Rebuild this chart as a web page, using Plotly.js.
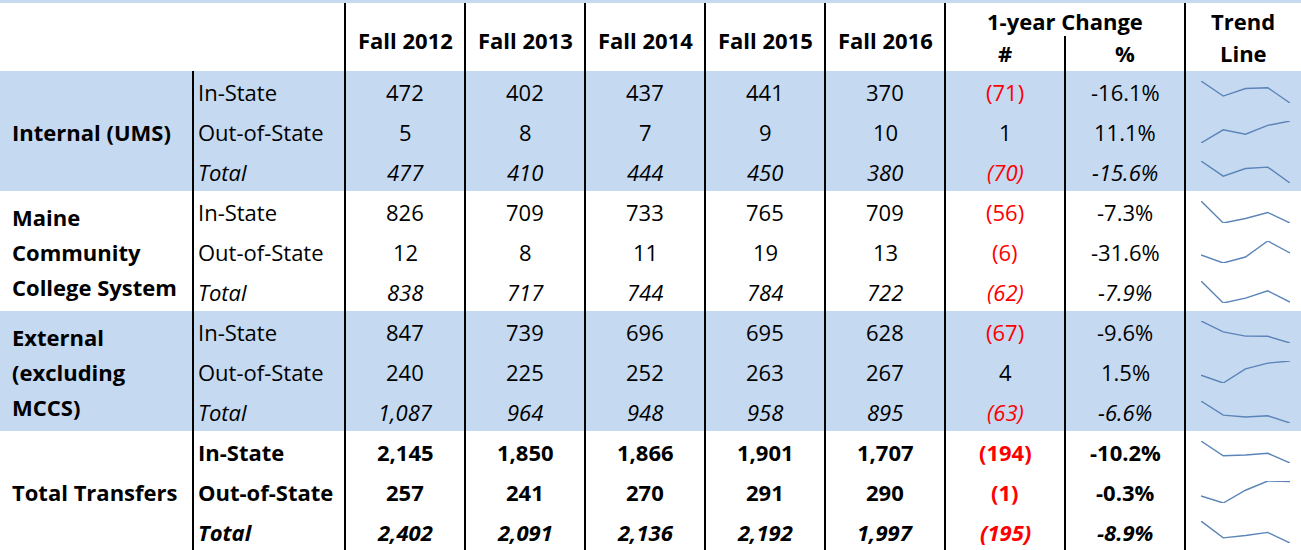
<!DOCTYPE html>
<html>
<head>
<meta charset="utf-8">
<script src="https://cdn.plot.ly/plotly-3.0.1.min.js"></script>
<style>html,body{margin:0;padding:0;background:#fff;}#chart{width:1301px;height:550px;}</style>
</head>
<body>
<div id="chart"></div>
<script>
// ---------- DATA ----------
var years = ['Fall 2012', 'Fall 2013', 'Fall 2014', 'Fall 2015', 'Fall 2016'];
var groupLabels = [['Internal (UMS)'], ['Maine', 'Community', 'College System'], ['External', '(excluding', 'MCCS)'], ['Total Transfers']];
var subLabels = ['In-State', 'Out-of-State', 'Total'];

var umsIn = [472, 402, 437, 441, 370];
var umsOut = [5, 8, 7, 9, 10];
var umsTotal = [477, 410, 444, 450, 380];
var mccsIn = [826, 709, 733, 765, 709];
var mccsOut = [12, 8, 11, 19, 13];
var mccsTotal = [838, 717, 744, 784, 722];
var extIn = [847, 739, 696, 695, 628];
var extOut = [240, 225, 252, 263, 267];
var extTotal = [1087, 964, 948, 958, 895];
var allIn = [2145, 1850, 1866, 1901, 1707];
var allOut = [257, 241, 270, 291, 290];
var allTotal = [2402, 2091, 2136, 2192, 1997];

var changeNum = [-71, 1, -70, -56, -6, -62, -67, 4, -63, -194, -1, -195];
var changePct = ['-16.1%', '11.1%', '-15.6%', '-7.3%', '-31.6%', '-7.9%', '-9.6%', '1.5%', '-6.6%', '-10.2%', '-0.3%', '-8.9%'];

var rowsData = [umsIn, umsOut, umsTotal, mccsIn, mccsOut, mccsTotal, extIn, extOut, extTotal, allIn, allOut, allTotal];

// ---------- LAYOUT HELPERS ----------
var W = 1301, H = 550;
var FONT = '"Open Sans", Lato, "Liberation Sans", sans-serif';
var FS = 22;
var rowTop = 71, rowH = 40;
var colCenters = [405, 525, 645, 765, 885];
var numCenter = 1005, pctCenter = 1125, trendCenter = 1243;
var blue = '#C5D9F1';

var shapes = [];
var annotations = [];
var traces = [];

function rect(x0, y0, x1, y1, color) {
  shapes.push({type: 'rect', xref: 'x', yref: 'y', x0: x0, x1: x1, y0: y0, y1: y1,
    fillcolor: color, line: {width: 0}, layer: 'below'});
}
function vline(x, y0, y1) {
  shapes.push({type: 'line', xref: 'x', yref: 'y', x0: x, x1: x, y0: y0, y1: y1,
    line: {color: '#000', width: 2}});
}
function txt(x, y, s, anchor, color) {
  annotations.push({xref: 'x', yref: 'y', x: x, y: y, text: s, showarrow: false,
    xanchor: anchor || 'center', yanchor: 'middle',
    font: {family: FONT, size: FS, color: color || '#000'}});
}
function fmt(v) { return v.toLocaleString('en-US'); }

// backgrounds
rect(0, 0, W, 3, blue);
rect(0, rowTop, W, rowTop + 3 * rowH, blue);
rect(0, rowTop + 6 * rowH, W, rowTop + 9 * rowH, blue);

// vertical lines
vline(193, rowTop, H);
[345, 465, 585, 705, 825, 945, 1185].forEach(function (x) { vline(x, 3, H); });
vline(1065, 36, H);

// header
years.forEach(function (y, i) { txt(colCenters[i], 40, '<b>' + y + '</b>'); });
txt(1065, 21, '<b>1-year Change</b>');
txt(numCenter, 53, '<b>#</b>');
txt(pctCenter, 53, '<b>%</b>');
txt(trendCenter, 21, '<b>Trend</b>');
txt(trendCenter, 53, '<b>Line</b>');

// group labels
groupLabels.forEach(function (lines, g) {
  var c = rowTop + g * 3 * rowH + 1.5 * rowH + 1;
  var n = lines.length;
  lines.forEach(function (l, k) {
    txt(10, c + (k - (n - 1) / 2) * 35, '<b>' + l + '</b>', 'left');
  });
});

// rows
rowsData.forEach(function (vals, r) {
  var g = Math.floor(r / 3), s = r % 3;
  var cy = rowTop + r * rowH + rowH / 2 + 1;
  var isBold = g === 3, isItal = s === 2;
  function st(t) {
    if (isBold) t = '<b>' + t + '</b>';
    if (isItal) t = '<i>' + t + '</i>';
    return t;
  }
  txt(196, cy, st(subLabels[s]), 'left');
  vals.forEach(function (v, i) { txt(colCenters[i], cy, st(fmt(v))); });
  var cn = changeNum[r];
  txt(numCenter, cy, st(cn < 0 ? '(' + fmt(-cn) + ')' : fmt(cn)), 'center', cn < 0 ? '#FF0000' : '#000');
  txt(pctCenter, cy, st(changePct[r]));
});

// base hidden axes (pixel space)
var layout = {
  width: W, height: H,
  margin: {l: 0, r: 0, t: 0, b: 0},
  paper_bgcolor: '#fff', plot_bgcolor: 'rgba(0,0,0,0)',
  showlegend: false,
  xaxis: {range: [0, W], domain: [0, 1], visible: false, fixedrange: true},
  yaxis: {range: [H, 0], domain: [0, 1], visible: false, fixedrange: true},
  shapes: shapes,
  annotations: annotations
};
traces.push({x: [0], y: [0], mode: 'markers', marker: {opacity: 0}, hoverinfo: 'skip', xaxis: 'x', yaxis: 'y'});

// sparklines
var sx0 = 1201, sx1 = 1290;
rowsData.forEach(function (vals, r) {
  var n = r + 2;
  var top = rowTop + r * rowH + 10, bot = rowTop + (r + 1) * rowH - 8;
  var mn = Math.min.apply(null, vals), mx = Math.max.apply(null, vals);
  layout['xaxis' + n] = {domain: [sx0 / W, sx1 / W], range: [0, vals.length - 1], visible: false, fixedrange: true, anchor: 'y' + n};
  layout['yaxis' + n] = {domain: [1 - bot / H, 1 - top / H], range: [mn, mx], visible: false, fixedrange: true, anchor: 'x' + n};
  traces.push({
    x: vals.map(function (_, i) { return i; }), y: vals,
    mode: 'lines', line: {color: '#5B84B8', width: 1.4},
    xaxis: 'x' + n, yaxis: 'y' + n, hoverinfo: 'skip', cliponaxis: false
  });
});

Plotly.newPlot('chart', traces, layout, {displayModeBar: false, staticPlot: true});
</script>
</body>
</html>
